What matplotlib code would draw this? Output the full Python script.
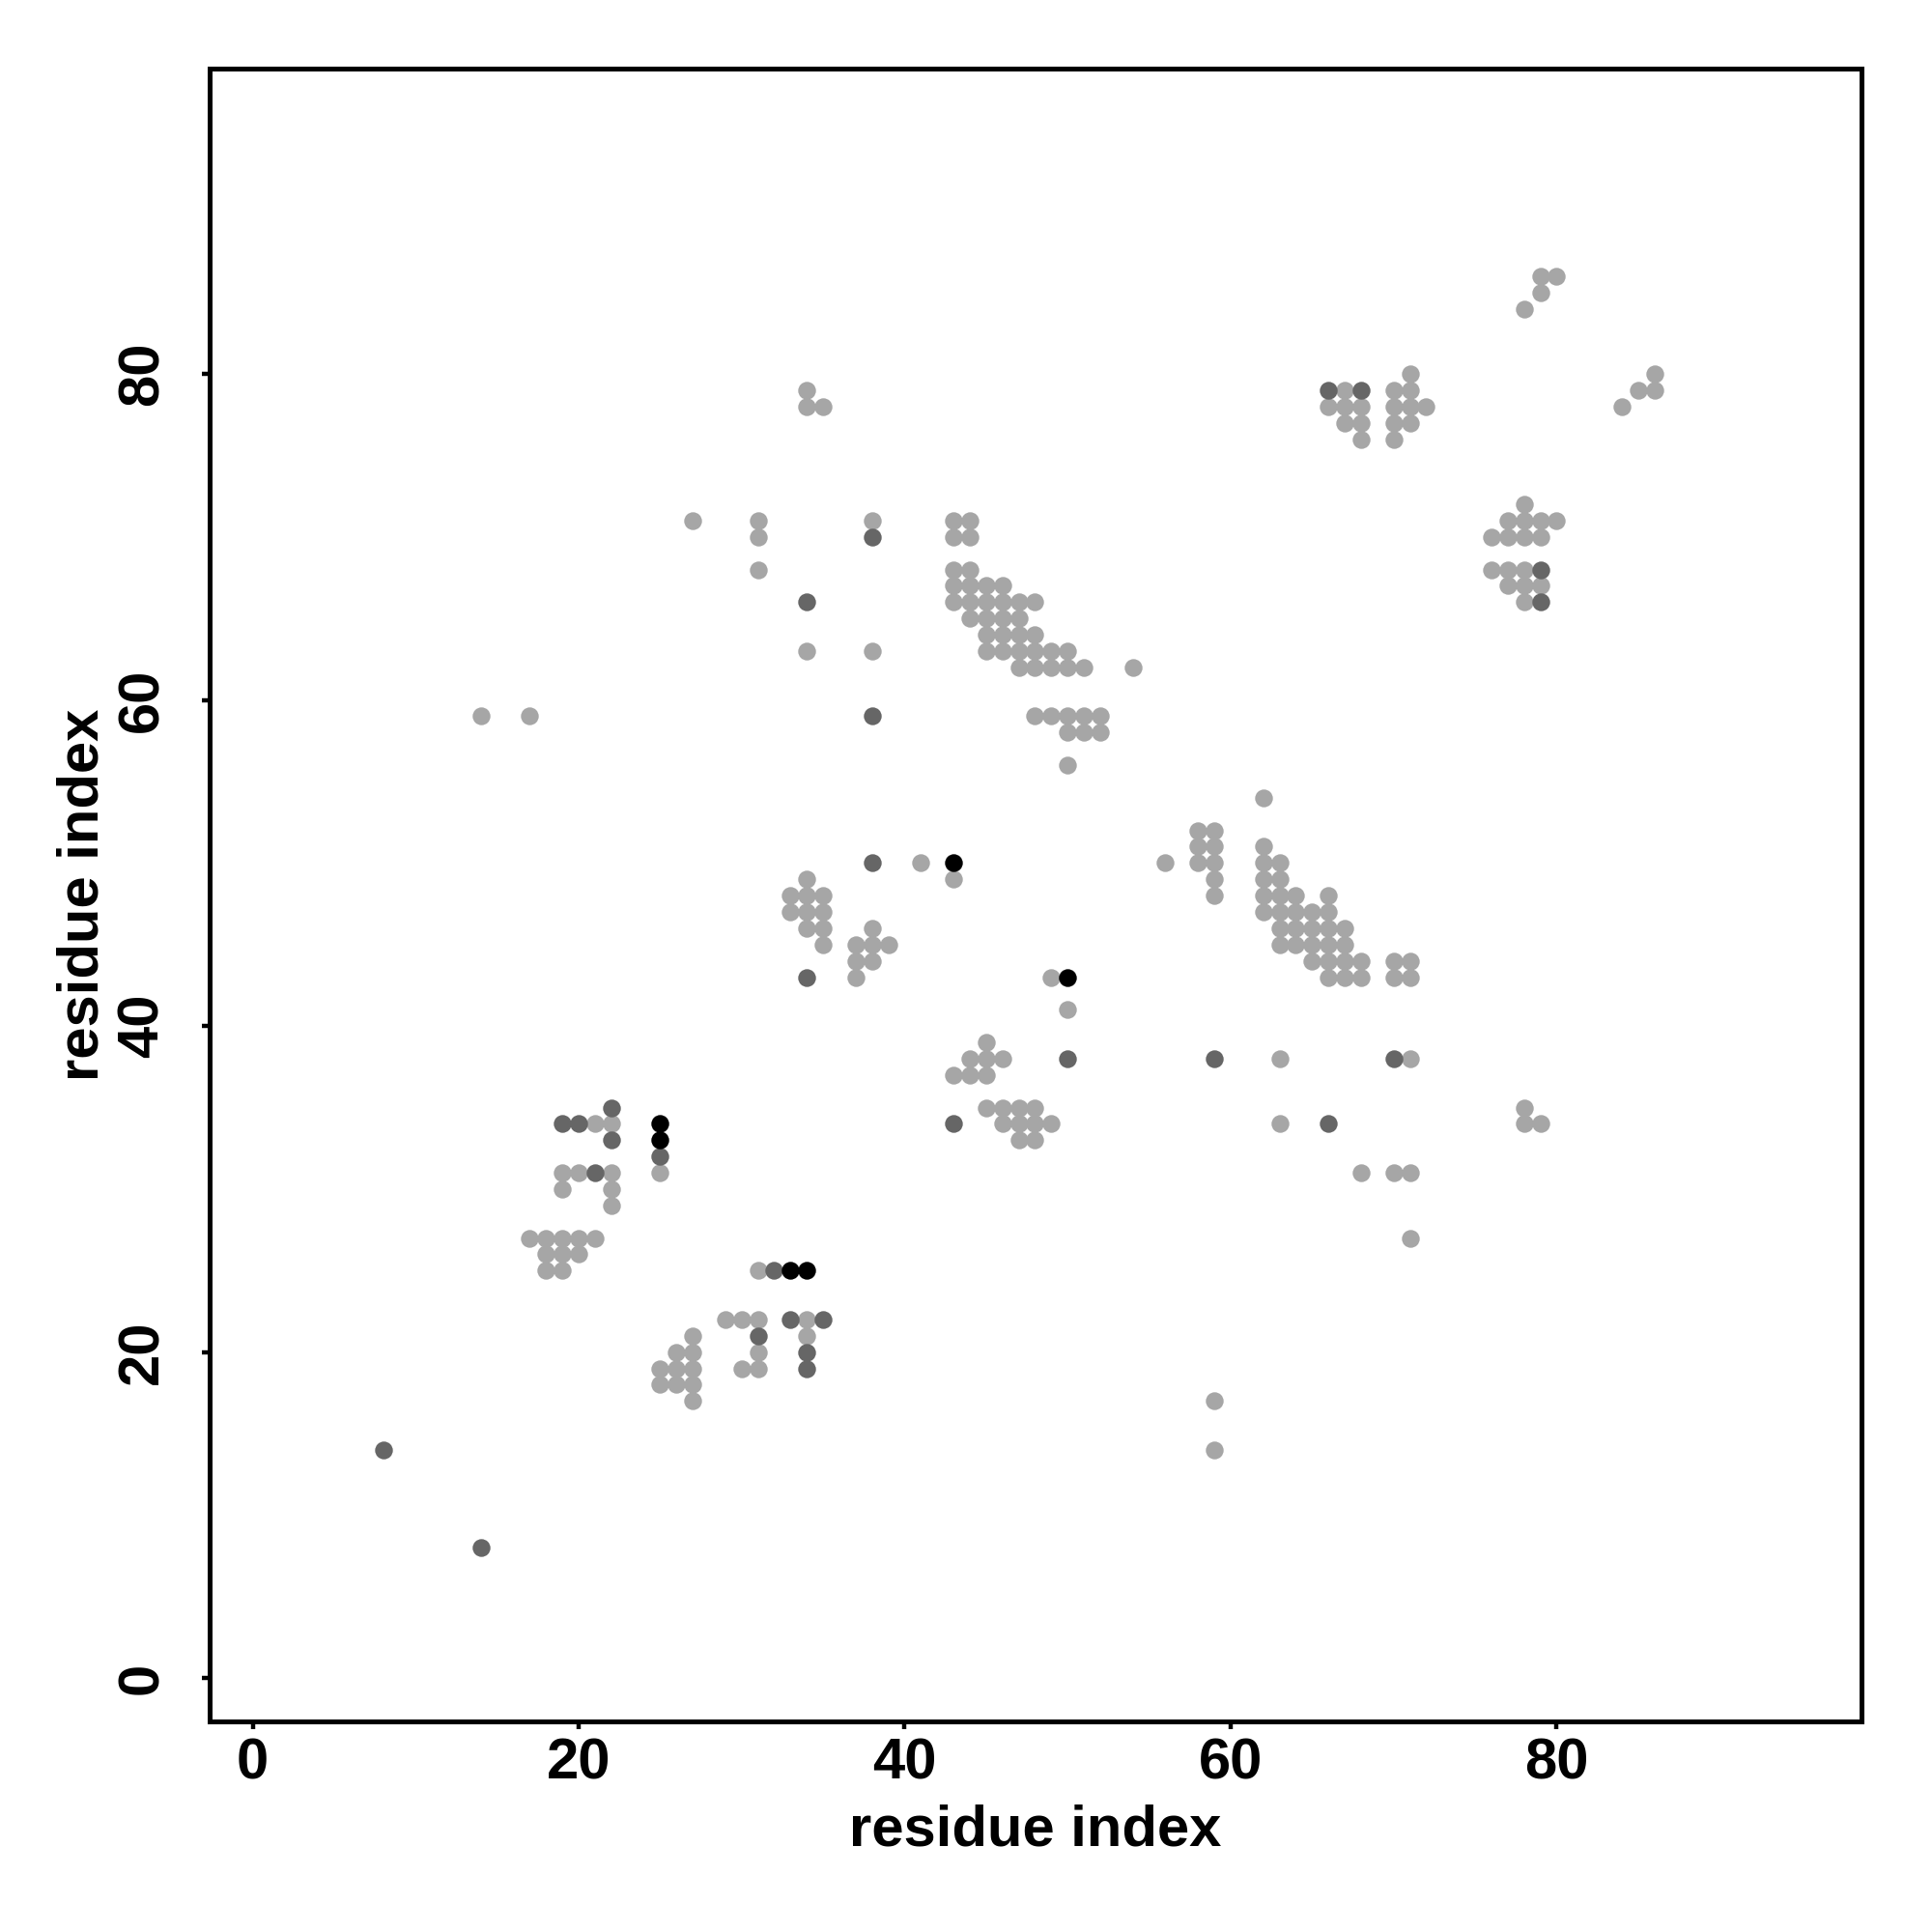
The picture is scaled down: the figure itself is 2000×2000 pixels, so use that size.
#!/usr/bin/env python3
"""contact map - residue index vs residue index"""
import matplotlib
matplotlib.use("Agg")
import matplotlib.pyplot as plt

plt.rcParams["font.family"] = ["Liberation Sans", "DejaVu Sans"]
plt.rcParams["font.weight"] = "bold"

# ===== data =====
# weak contacts (light grey)
light_x = [14, 17,
           18, 19, 18, 19, 20, 17, 18, 19, 20, 21,
           19, 22, 22, 19, 20, 22, 21, 22, 25,
           26, 27, 27, 25, 26, 27, 25, 26, 27, 27,
           29, 30, 31, 34, 31, 34, 31, 30, 31,
           45, 46, 47, 48, 46, 47, 48, 49, 47, 48,
           63, 78, 78, 79, 68, 70, 71, 71, 59, 59, 63, 71,
           62, 58, 59, 58, 59, 58, 59, 59, 59, 56,
           62, 62, 63, 62, 63, 62, 63, 64, 66, 62, 63, 64, 65, 66,
           63, 64, 65, 66, 67, 63, 64, 65, 66, 67,
           65, 66, 67, 68, 70, 71, 66, 67, 68, 70, 71,
           48, 49, 50, 51, 52, 50, 51, 52, 50, 41, 43,
           34, 33, 34, 35, 33, 34, 35, 34, 35, 35,
           38, 37, 38, 39, 37, 38, 37,
           49, 50, 45, 44, 45, 46, 43, 44, 45,
           34, 34, 35, 38, 43, 44, 43, 44, 34, 38,
           43, 44, 43, 44, 45, 46, 43, 44, 45, 46, 47, 48,
           44, 45, 46, 47, 45, 46, 47, 48, 45, 46, 47, 48, 49, 50,
           47, 48, 49, 50, 51, 54,
           27, 31, 31, 31,
           79, 80, 79, 78, 86, 85, 86, 84,
           67, 66, 67, 68, 67, 68, 68,
           71, 70, 71, 70, 71, 72, 70, 71, 70,
           78, 77, 78, 79, 80, 76, 77, 78, 79,
           76, 77, 78, 77, 78, 79, 78]
light_y = [59, 59,
           25, 25, 26, 26, 26, 27, 27, 27, 27, 27,
           30, 30, 29, 31, 31, 31, 34, 34, 31,
           20, 20, 21, 19, 19, 19, 18, 18, 18, 17,
           22, 22, 22, 22, 25, 21, 20, 19, 19,
           35, 35, 35, 35, 34, 34, 34, 34, 33, 33,
           34, 35, 34, 34, 31, 31, 31, 27, 17, 14, 38, 38,
           54, 52, 52, 51, 51, 50, 50, 49, 48, 50,
           51, 50, 50, 49, 49, 48, 48, 48, 48, 47, 47, 47, 47, 47,
           46, 46, 46, 46, 46, 45, 45, 45, 45, 45,
           44, 44, 44, 44, 44, 44, 43, 43, 43, 43, 43,
           59, 59, 59, 59, 59, 58, 58, 58, 56, 50, 49,
           49, 48, 48, 48, 47, 47, 47, 46, 46, 45,
           46, 45, 45, 45, 44, 44, 43,
           43, 41, 39, 38, 38, 38, 37, 37, 37,
           79, 78, 78, 71, 71, 71, 70, 70, 63, 63,
           68, 68, 67, 67, 67, 67, 66, 66, 66, 66, 66, 66,
           65, 65, 65, 65, 64, 64, 64, 64, 63, 63, 63, 63, 63, 63,
           62, 62, 62, 62, 62, 62,
           71, 71, 70, 68,
           86, 86, 85, 84, 80, 79, 79, 78,
           79, 78, 78, 78, 77, 77, 76,
           80, 79, 79, 78, 78, 78, 77, 77, 76,
           72, 71, 71, 71, 71, 70, 70, 70, 70,
           68, 68, 68, 67, 67, 67, 66]

# medium contacts (dark grey)
dark_x = [8, 14, 22, 19, 20, 22, 25, 21, 32, 33, 35, 31, 34, 34,
          43, 66, 59, 70, 38, 38, 34, 50, 38, 34, 66, 68, 79, 79]
dark_y = [14, 8, 35, 34, 34, 33, 32, 31, 25, 22, 22, 21, 20, 19,
          34, 34, 38, 38, 59, 50, 43, 38, 70, 66, 79, 79, 68, 66]

# strong contacts (black)
black_x = [25, 25, 33, 34, 43, 50]
black_y = [34, 33, 25, 25, 50, 43]

TICKS = [0, 20, 40, 60, 80]


def chart_contact_map():
    fig = plt.figure(figsize=(10, 10), dpi=200)
    ax = fig.add_axes([0.1084, 0.109, 0.8551, 0.8553])

    ax.scatter(light_x, light_y, s=44, color="#a6a6a6", linewidths=0, zorder=2)
    ax.scatter(dark_x, dark_y, s=44, color="#666666", linewidths=0, zorder=3)
    ax.scatter(black_x, black_y, s=44, color="#000000", linewidths=0, zorder=4)

    ax.set_xlim(-2.65, 98.7)
    ax.set_ylim(-2.65, 98.7)
    ax.set_xticks(TICKS)
    ax.set_yticks(TICKS)
    ax.set_xticklabels([str(t) for t in TICKS], fontsize=21.5, fontweight="bold")
    ax.set_yticklabels([str(t) for t in TICKS], fontsize=21.5, fontweight="bold",
                       rotation=90, va="center")
    ax.tick_params(axis="both", direction="out", length=3, width=1.6)
    ax.tick_params(axis="x", pad=3)
    ax.tick_params(axis="y", pad=12)

    ax.set_xlabel("residue index", fontsize=21.5, fontweight="bold", labelpad=5)
    ax.set_ylabel("residue index", fontsize=21.5, fontweight="bold", labelpad=2.5)

    for sp in ax.spines.values():
        sp.set_linewidth(1.8)

    fig.savefig("out.png", dpi=200)
    plt.close()


if __name__ == "__main__":
    chart_contact_map()
